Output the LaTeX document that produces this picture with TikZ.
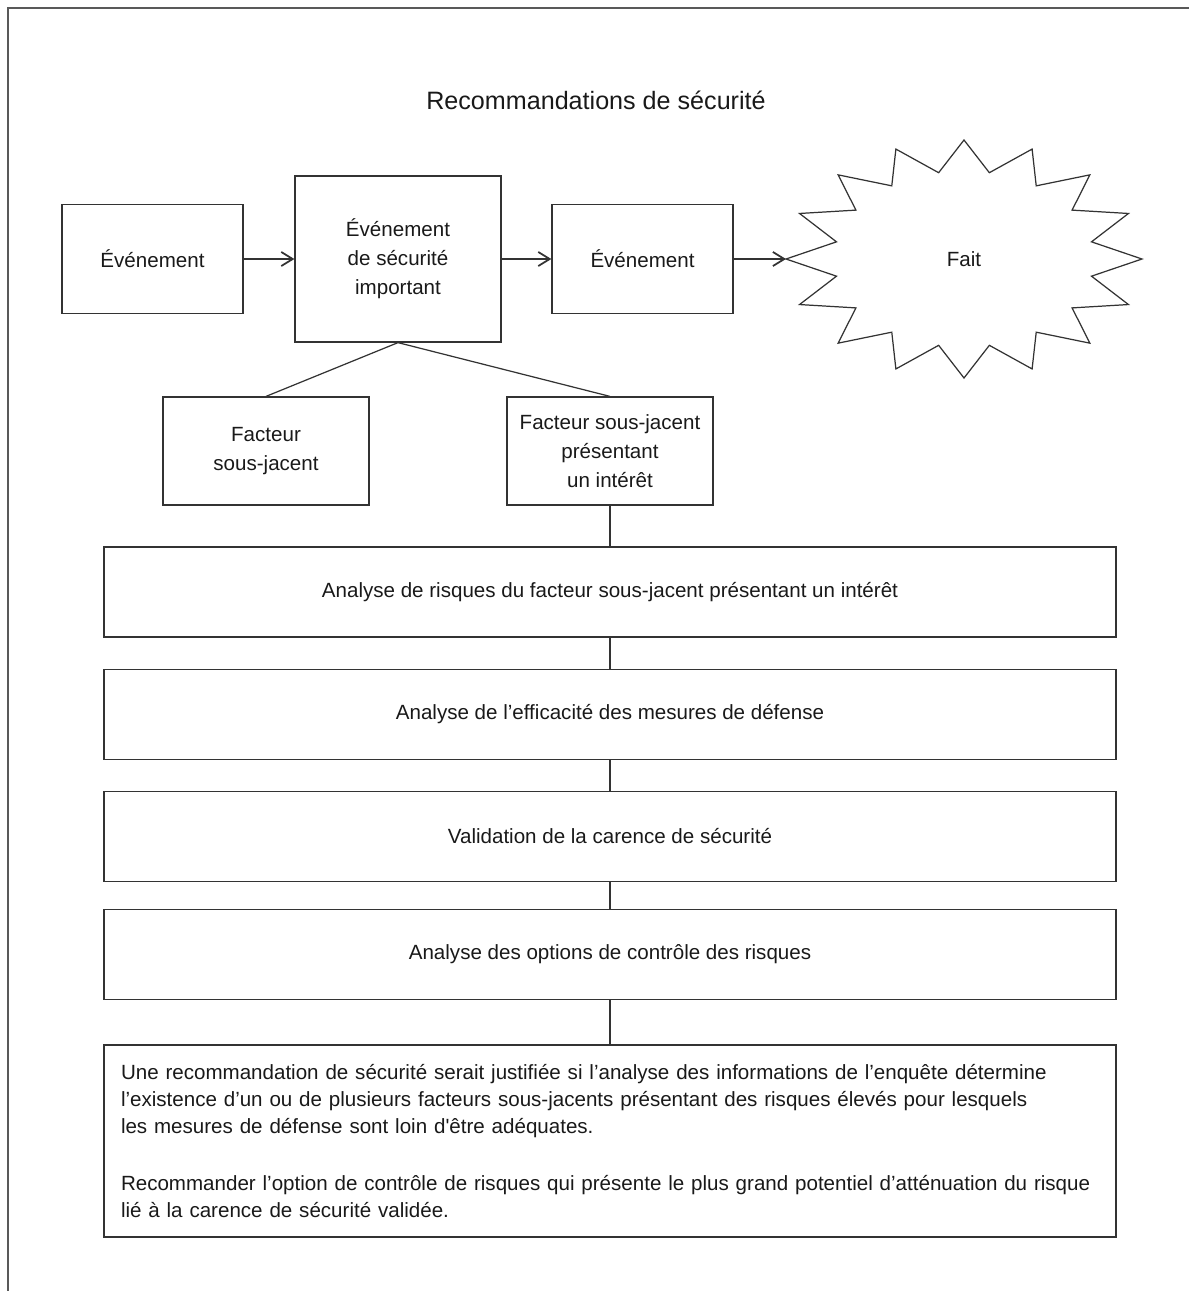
\documentclass[tikz,border=0pt]{standalone}
\usepackage{fontspec}
\setmainfont{Liberation Sans}
\usetikzlibrary{positioning,arrows.meta}

\begin{document}
\begin{tikzpicture}[>={Straight Barb[length=6.5pt,width=8pt,line width=1pt]},
	line/.style={draw=black!80, line width=0.7pt},
	box/.style={line, align=center, inner sep=2pt, text=black!90,
		font=\fontsize{11.7}{16.5}\selectfont},
	evbox/.style={box, minimum width=3.62cm, minimum height=2.18cm},
	facbox/.style={box, minimum width=4.12cm, minimum height=2.16cm},
	stepbox/.style={box, minimum width=20.24cm, minimum height=1.8cm}]
\useasboundingbox (0,0) rectangle (23.78,-25.82);
\draw [line width=1.1pt, black!65] (0.16,-25.82) -- (0.16,-0.16) -- (23.78,-0.16);

\node [font=\fontsize{14.3}{17}\selectfont, text=black!90] (titre) at (11.92,-2.0) {Recommandations de sécurité};

\node [evbox] (ev1) at (3.05,-5.18) {Événement};
\node [box, minimum width=4.12cm, minimum height=3.32cm] (evsec) at (7.96,-5.18) {Événement\\de sécurité\\important};
\node [evbox] (ev2) at (12.85,-5.18) {Événement};

\begin{scope}[shift={(19.28,-5.18)}]
	\draw [line] (180:3.56 and 2.38) \foreach \k in {1,...,16} { -- ({180+(\k-0.5)*22.5}:2.6 and 1.76) -- ({180+\k*22.5}:3.56 and 2.38)} -- cycle;
	\coordinate (faitL) at (180:3.56 and 2.38);
	\node [box, draw=none] (fait) at (0,0) {Fait};
\end{scope}

\draw [line, ->] (ev1.east) -- (evsec.west);
\draw [line, ->] (evsec.east) -- (ev2.west);
\draw [line, ->] (ev2.east) -- (faitL);

\node [facbox] (fac1) at (5.32,-9.02) {Facteur\\sous-jacent};
\node [facbox] (facint) at (12.2,-9.02) {Facteur sous-jacent\\présentant\\un intérêt};
\draw [line] (evsec.south) -- (fac1.north);
\draw [line] (evsec.south) -- (facint.north);

\node [stepbox] (risques) at (12.2,-11.84) {Analyse de risques du facteur sous-jacent présentant un intérêt};
\node [stepbox] (defense) at (12.2,-14.29) {Analyse de l’efficacité des mesures de défense};
\node [stepbox] (carence) at (12.2,-16.73) {Validation de la carence de sécurité};
\node [stepbox] (options) at (12.2,-19.09) {Analyse des options de contrôle des risques};
\node [box, align=left, minimum width=20.24cm, minimum height=3.84cm, inner xsep=0.34cm,
	text width=19.56cm, font=\fontsize{11.7}{15.4}\selectfont] (reco) at (12.2,-22.82)
	{Une recommandation de sécurité serait justifiée si l’analyse des informations de l’enquête détermine\\
	l’existence d’un ou de plusieurs facteurs sous-jacents présentant des risques élevés pour lesquels\\
	les mesures de défense sont loin d\textquotesingle être adéquates.\\[17pt]
	Recommander l’option de contrôle de risques qui présente le plus grand potentiel d’atténuation du risque\\
	lié à la carence de sécurité validée.};

\draw [line] (facint.south) -- (risques.north);
\draw [line] (risques.south) -- (defense.north);
\draw [line] (defense.south) -- (carence.north);
\draw [line] (carence.south) -- (options.north);
\draw [line] (options.south) -- (reco.north);
\end{tikzpicture}
\end{document}
